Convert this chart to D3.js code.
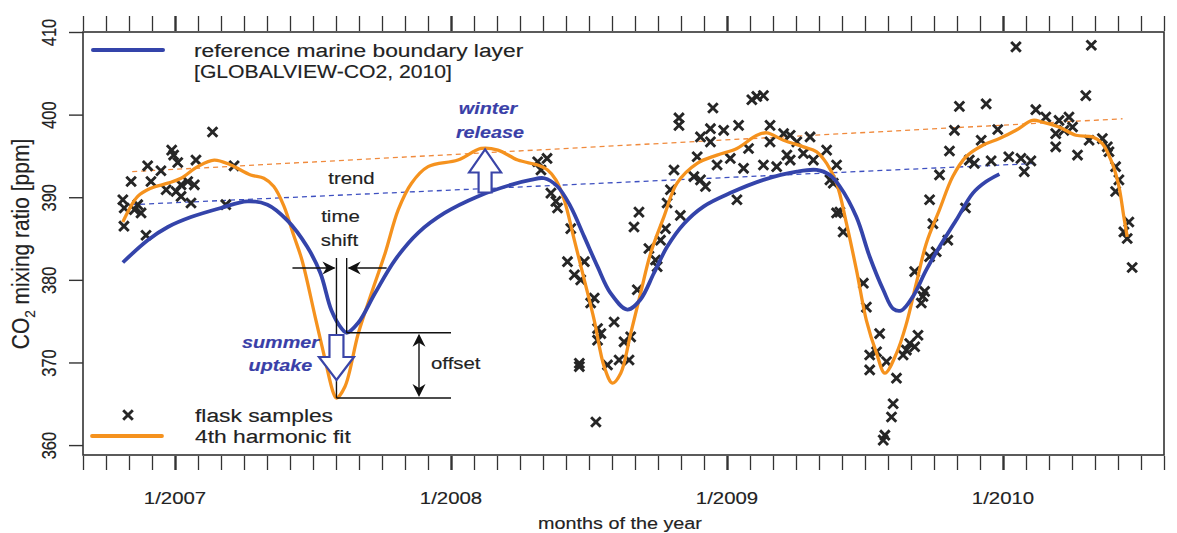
<!DOCTYPE html>
<html>
<head>
<meta charset="utf-8">
<script src="https://cdn.jsdelivr.net/npm/d3@7"></script>
<style>
  html, body { margin: 0; padding: 0; background: #fff; }
  svg { display: block; font-family: "Liberation Sans", Arial, sans-serif; }
</style>
</head>
<body>
<div class="chart"></div>
<script>
// -----------------------------------------------------------------------
// Data (decimal year, ppm)
// -----------------------------------------------------------------------

// flask samples
const FLASK_YEAR = [
  2007.136, 2006.988, 2006.995, 2007.010, 2007.076, 2006.901, 2006.949, 2007.214, 2006.841, 2006.913,
  2006.968, 2007.022, 2007.046, 2007.070, 2007.004, 2007.022, 2006.811, 2007.058, 2006.865, 2006.877,
  2006.853, 2007.184, 2006.815, 2006.895, 2006.816,
  2008.314, 2008.348, 2008.326, 2008.362, 2008.380, 2008.386, 2008.434, 2008.422, 2008.483, 2008.447,
  2008.470, 2008.519, 2008.506, 2008.465, 2008.465, 2008.531, 2008.543, 2008.531, 2008.591, 2008.567,
  2008.609, 2008.645, 2008.627, 2008.651, 2008.525, 2008.675, 2008.663, 2008.681, 2008.717, 2008.741,
  2008.747, 2008.759, 2008.777, 2008.783, 2008.795, 2008.808, 2008.831, 2008.826, 2008.826, 2008.949,
  2009.108, 2009.132, 2009.090, 2008.940, 2008.988, 2009.042, 2008.904, 2008.940, 2009.156, 2009.205,
  2009.229, 2009.253, 2009.301, 2009.361, 2009.078, 2009.156, 2009.012, 2008.964, 2009.060, 2009.132,
  2009.180, 2009.217, 2009.229, 2009.277, 2009.313, 2008.892, 2008.880, 2008.904, 2008.922, 2009.036,
  2009.385, 2009.397,
  2010.047, 2010.320, 2010.300, 2009.842, 2009.939, 2010.119, 2010.155, 2009.824, 2009.981, 2009.806,
  2009.921, 2009.878, 2009.896, 2009.957, 2010.021, 2010.065, 2010.101, 2010.077, 2009.770, 2009.734,
  2009.864, 2010.203, 2010.239, 2010.252, 2010.221, 2010.191, 2010.191, 2010.270, 2010.312, 2010.360,
  2010.378, 2010.384, 2010.408, 2010.420, 2010.408, 2010.456, 2010.438, 2010.450, 2010.468,
  2009.397, 2009.373, 2009.409, 2009.421, 2009.494, 2009.505, 2009.553, 2009.517, 2009.542, 2009.517,
  2009.578, 2009.614, 2009.602, 2009.596, 2009.572, 2009.566, 2009.638, 2009.662, 2009.692, 2009.680,
  2009.650, 2009.680, 2009.710, 2009.704, 2009.716, 2009.734, 2009.758, 2009.800, 2009.746
];
const FLASK_PPM = [
  397.9, 395.7, 395.1, 394.2, 394.5, 393.8, 393.2, 393.8, 391.9, 391.9,
  390.9, 391.5, 391.9, 391.5, 390.7, 390.1, 389.7, 389.3, 389.1, 388.1,
  388.5, 389.1, 386.5, 385.4, 388.7,
  394.3, 394.7, 393.3, 390.5, 389.5, 388.7, 386.2, 382.2, 382.2, 380.6,
  380.0, 377.8, 377.2, 369.9, 369.5, 374.1, 373.5, 372.7, 374.9, 369.7,
  370.3, 370.3, 372.5, 373.1, 362.8, 378.8, 386.4, 388.2, 383.8, 382.4,
  381.6, 384.8, 386.2, 389.3, 390.9, 393.3, 387.8, 399.6, 398.7, 400.8,
  402.2, 402.3, 401.8, 398.3, 398.1, 398.7, 397.3, 396.7, 398.7, 397.7,
  397.5, 396.7, 397.3, 395.7, 395.9, 396.7, 394.7, 393.9, 393.5, 393.9,
  393.7, 395.1, 394.5, 395.3, 394.5, 394.9, 392.5, 392.1, 391.3, 389.7,
  391.7, 388.1,
  408.2, 408.4, 402.3, 401.0, 401.3, 400.6, 399.7, 398.1, 398.2, 395.6,
  396.9, 394.5, 394.1, 394.4, 394.9, 394.7, 394.4, 393.1, 392.7, 389.7,
  388.7, 399.3, 399.7, 398.5, 398.1, 397.7, 396.1, 395.1, 396.9, 397.1,
  396.1, 395.5, 393.7, 392.1, 390.7, 387.0, 385.8, 385.0, 381.5,
  393.9, 392.1, 388.2, 385.8, 379.6, 376.7, 373.5, 370.9, 371.3, 369.1,
  370.1, 368.1, 365.0, 363.4, 361.2, 360.6, 370.9, 372.3, 373.3, 371.9,
  371.5, 381.0, 378.0, 377.2, 378.6, 382.8, 383.4, 384.8, 386.8
];

// 4th harmonic fit
const FIT_YEAR = [
  2006.811, 2006.865, 2006.913, 2006.974, 2007.022, 2007.082, 2007.142, 2007.202, 2007.274, 2007.322,
  2007.358, 2007.395, 2007.430, 2007.460, 2007.508, 2007.544, 2007.574, 2007.585, 2007.616, 2007.664,
  2007.712, 2007.761, 2007.809, 2007.857, 2007.917, 2008.025, 2008.109, 2008.170, 2008.242, 2008.314,
  2008.350, 2008.380, 2008.410, 2008.447, 2008.483, 2008.519, 2008.555, 2008.585, 2008.615, 2008.651,
  2008.687, 2008.723, 2008.771, 2008.819, 2008.892, 2008.964, 2009.036, 2009.108, 2009.144, 2009.205,
  2009.277, 2009.325, 2009.361, 2009.397, 2009.433, 2009.469, 2009.505, 2009.542, 2009.572, 2009.614,
  2009.650, 2009.686, 2009.722, 2009.770, 2009.818, 2009.866, 2009.927, 2009.987, 2010.047, 2010.107,
  2010.143, 2010.203, 2010.264, 2010.324, 2010.360, 2010.396, 2010.420, 2010.438, 2010.450
];
const FIT_PPM = [
  387.0, 390.1, 391.1, 391.7, 392.3, 393.7, 394.5, 393.9, 392.7, 392.3,
  391.3, 388.9, 385.4, 382.4, 375.5, 370.3, 366.3, 365.7, 367.1, 373.5,
  378.4, 383.2, 388.5, 391.7, 393.7, 394.5, 395.9, 395.7, 394.5, 393.9,
  393.3, 392.1, 389.7, 384.8, 380.0, 375.1, 369.5, 367.5, 368.7, 373.5,
  378.4, 383.2, 387.6, 391.7, 394.1, 395.1, 395.9, 397.5, 397.8, 396.9,
  396.1, 395.5, 394.1, 391.7, 386.8, 381.2, 375.1, 371.1, 368.7, 371.1,
  374.7, 379.6, 384.4, 388.5, 392.5, 394.9, 396.3, 397.1, 398.1, 399.3,
  399.1, 398.5, 397.5, 397.3, 396.5, 394.1, 391.3, 387.6, 385.2
];

// reference marine boundary layer
const MBL_YEAR = [
  2006.811, 2006.901, 2006.974, 2007.058, 2007.166, 2007.262, 2007.335, 2007.407, 2007.479, 2007.527,
  2007.567, 2007.604, 2007.622, 2007.664, 2007.725, 2007.797, 2007.881, 2007.977, 2008.097, 2008.217,
  2008.289, 2008.338, 2008.386, 2008.433, 2008.483, 2008.531, 2008.578, 2008.639, 2008.686, 2008.735,
  2008.783, 2008.844, 2008.916, 2009.011, 2009.132, 2009.253, 2009.325, 2009.372, 2009.409, 2009.469,
  2009.517, 2009.566, 2009.602, 2009.632, 2009.674, 2009.722, 2009.770, 2009.830, 2009.891, 2009.939,
  2009.987
];
const MBL_PPM = [
  382.1, 384.8, 386.4, 387.6, 388.7, 389.5, 389.1, 387.2, 384.0, 380.8,
  376.3, 374.1, 373.6, 374.8, 378.4, 382.4, 385.7, 388.1, 390.1, 391.5,
  392.1, 392.3, 391.3, 388.9, 385.2, 381.6, 378.4, 376.4, 377.6, 380.8,
  384.0, 386.8, 388.9, 390.5, 392.1, 393.1, 393.3, 392.7, 391.3, 387.6,
  382.8, 378.8, 376.5, 376.3, 378.0, 381.2, 384.0, 387.2, 390.5, 391.9,
  392.8
];

// dashed trend lines (start, end)
const TREND_FIT_YEAR = [2006.845, 2010.433];
const TREND_FIT_PPM = [393.1, 399.5];
const TREND_MBL_YEAR = [2006.841, 2010.126];
const TREND_MBL_PPM = [389.1, 394.1];

// axes
const Y_TICKS = [360, 370, 380, 390, 400, 410];
const X_LABEL_YEARS = [2007, 2008, 2009, 2010];
const X_LABELS = ["1/2007", "1/2008", "1/2009", "1/2010"];

// -----------------------------------------------------------------------
// Layout
// -----------------------------------------------------------------------

const WIDTH = 1177, HEIGHT = 533;
const SX = 1.2;              // the scanned figure is stretched sideways, text follows it
const BLUE = "#3444aa";
const ORANGE = "#f5921e";
const INK = "#222";

const svg = d3.select(".chart").append("svg")
  .attr("width", WIDTH)
  .attr("height", HEIGHT);

const x = d3.scaleLinear().domain([2006 + 8 / 12, 2010 + 7 / 12]).range([83, 1164]);
const y = d3.scaleLinear().domain([358.8, 410]).range([455, 32]);

// text that follows the horizontal stretch
function label(parent, px, py, str, size, opts = {}) {
  const color = opts.color || INK;
  const t = parent.append("text")
    .attr("transform", `translate(${px},${py}) scale(${SX},1)`)
    .attr("font-size", size)
    .attr("text-anchor", opts.anchor || "start")
    .attr("fill", color)
    .attr("stroke", color).attr("stroke-width", 0.15)
    .text(str);
  if (opts.bold) t.attr("font-weight", "bold");
  if (opts.italic) t.attr("font-style", "italic");
  return t;
}

// -----------------------------------------------------------------------
// Axes
// -----------------------------------------------------------------------

const monthTicks = d3.range(48).map(i => 2006 + (8 + i) / 12);
const isJan = v => Math.abs(v - Math.round(v)) < 1e-6;

function styleTicks(g) {
  g.select(".domain").remove();
  g.selectAll(".tick line")
    .attr("stroke", "#333")
    .attr("stroke-width", d => isJan(d) ? 2.4 : 1.3);
}

svg.append("g")
  .attr("transform", `translate(0,${y.range()[0] + 1})`)
  .call(d3.axisBottom(x).tickValues(monthTicks).tickSize(14).tickFormat(""))
  .call(styleTicks);

svg.append("g")
  .attr("transform", `translate(0,${y.range()[1] - 1})`)
  .call(d3.axisTop(x).tickValues(monthTicks).tickSize(15).tickFormat(""))
  .call(styleTicks);

const yAxis = svg.append("g")
  .attr("transform", `translate(${x.range()[0]},0)`)
  .call(d3.axisLeft(y).tickValues(Y_TICKS).tickSize(14));
yAxis.select(".domain").remove();
yAxis.selectAll(".tick line").attr("stroke", "#333").attr("stroke-width", 1.4);
yAxis.selectAll(".tick text")
  .attr("x", null).attr("dy", null)
  .attr("transform", `translate(-27,0) rotate(-90) scale(1,${SX})`)
  .attr("text-anchor", "middle")
  .attr("font-size", 16.5)
  .attr("font-family", null)
  .attr("fill", INK)
  .attr("stroke", INK).attr("stroke-width", 0.15);

X_LABEL_YEARS.forEach((yr, i) => label(svg, x(yr), 504, X_LABELS[i], 17, { anchor: "middle" }));
label(svg, 620, 529, "months of the year", 16.5, { anchor: "middle" });

const yTitle = svg.append("text")
  .attr("transform", `translate(29,244) rotate(-90) scale(1,1.1)`)
  .attr("text-anchor", "middle")
  .attr("font-size", 21)
  .attr("fill", INK)
  .attr("stroke", INK).attr("stroke-width", 0.15);
yTitle.append("tspan").text("CO");
yTitle.append("tspan").attr("font-size", 13.5).attr("dy", 5).text("2");
yTitle.append("tspan").attr("dy", -5).text(" mixing ratio [ppm]");

// plot frame
svg.append("rect")
  .attr("x", x.range()[0]).attr("y", y.range()[1])
  .attr("width", x.range()[1] - x.range()[0])
  .attr("height", y.range()[0] - y.range()[1])
  .attr("fill", "none").attr("stroke", "#333").attr("stroke-width", 1.6);

// -----------------------------------------------------------------------
// Marks
// -----------------------------------------------------------------------

const line = d3.line()
  .x(d => x(d[0]))
  .y(d => y(d[1]))
  .curve(d3.curveCatmullRom.alpha(0.5));

// trend lines
svg.append("path")
  .attr("d", d3.line()(TREND_FIT_YEAR.map((v, i) => [x(v), y(TREND_FIT_PPM[i])])))
  .attr("stroke", "#f08a3c").attr("stroke-width", 1.3)
  .attr("stroke-dasharray", "5,4").attr("fill", "none");
svg.append("path")
  .attr("d", d3.line()(TREND_MBL_YEAR.map((v, i) => [x(v), y(TREND_MBL_PPM[i])])))
  .attr("stroke", "#3d4fc0").attr("stroke-width", 1.3)
  .attr("stroke-dasharray", "5,4").attr("fill", "none");

// flask samples
const cross = r => `M${-r},${-r}L${r},${r}M${-r},${r}L${r},${-r}`;
svg.append("g").selectAll("path")
  .data(FLASK_YEAR.map((v, i) => [v, FLASK_PPM[i]]))
  .join("path")
  .attr("transform", d => `translate(${x(d[0])},${y(d[1])})`)
  .attr("d", cross(4.8))
  .attr("stroke", "#262626").attr("stroke-width", 2.9).attr("fill", "none");

// curves
svg.append("path")
  .datum(FIT_YEAR.map((v, i) => [v, FIT_PPM[i]]))
  .attr("d", line)
  .attr("stroke", ORANGE).attr("stroke-width", 3.3).attr("fill", "none");
svg.append("path")
  .datum(MBL_YEAR.map((v, i) => [v, MBL_PPM[i]]))
  .attr("d", line)
  .attr("stroke", BLUE).attr("stroke-width", 3.8).attr("fill", "none");

// -----------------------------------------------------------------------
// Annotations
// -----------------------------------------------------------------------

const ann = svg.append("g");
const fitMin = FIT_PPM.indexOf(d3.min(FIT_PPM.slice(0, 30)));
const mblMin = MBL_PPM.indexOf(d3.min(MBL_PPM.slice(0, 20)));
const ox = x(FIT_YEAR[fitMin]), oy = y(FIT_PPM[fitMin]);
const bx = x(MBL_YEAR[mblMin]), by = y(MBL_PPM[mblMin]);
const rightEnd = x(2008.0);

function seg(x1, y1, x2, y2) {
  ann.append("line")
    .attr("x1", x1).attr("y1", y1).attr("x2", x2).attr("y2", y2)
    .attr("stroke", "#111").attr("stroke-width", 1.4);
}
// filled arrowhead, tip at (tx,ty), pointing along angle (radians)
function head(tx, ty, ang) {
  const L = 13, W = 6.5, N = 9;
  const c = Math.cos(ang), s = Math.sin(ang);
  const p = (a, b) => [tx - a * c + b * s, ty - a * s - b * c];
  ann.append("path")
    .attr("d", "M" + [p(0, 0), p(L, W), p(N, 0), p(L, -W)].join("L") + "Z")
    .attr("fill", "#111");
}

// time shift
const ay = oy - 130;
seg(ox, ay - 10, ox, oy);
seg(bx, ay - 10, bx, by);
seg(ox - 44, ay, ox - 2, ay); head(ox - 1, ay, 0);
seg(bx + 40, ay, bx + 2, ay); head(bx + 1, ay, Math.PI);

// offset
seg(ox, oy, rightEnd, oy);
seg(bx, by, rightEnd, by);
const dx = rightEnd - 32;
seg(dx, by + 3, dx, oy - 3);
head(dx, by + 1, -Math.PI / 2);
head(dx, oy - 1, Math.PI / 2);

label(ann, ox + 15, 184, "trend", 17, { anchor: "middle" });
label(ann, ox + 4, 222, "time", 17, { anchor: "middle" });
label(ann, ox + 3, 246, "shift", 17, { anchor: "middle" });
label(ann, dx + 12, 369, "offset", 17);

// hollow block arrows
function blockArrow(tx, ty, dir, headLen, headW, shaftW, shaftLen) {
  // dir = 1 pointing down, -1 pointing up
  const hb = ty - dir * headLen, sb = hb - dir * shaftLen;
  const pts = [
    [tx, ty], [tx + headW, hb], [tx + shaftW, hb], [tx + shaftW, sb],
    [tx - shaftW, sb], [tx - shaftW, hb], [tx - headW, hb]
  ];
  ann.append("path")
    .attr("d", "M" + pts.join("L") + "Z")
    .attr("fill", "#fff").attr("stroke", "#3a45a8").attr("stroke-width", 2.2)
    .attr("stroke-linejoin", "miter");
}
blockArrow(ox, oy - 18, 1, 23, 17.5, 7, 22);
const peakI = FIT_PPM.indexOf(d3.max(FIT_PPM.slice(20, 35)));
blockArrow(x(FIT_YEAR[peakI]) + 4, y(FIT_PPM[peakI]) + 1, -1, 23, 16, 6.5, 20);

const annBlue = "#3a3fa8";
label(ann, ox - 56, 348, "summer", 16.5, { anchor: "middle", color: annBlue, bold: true, italic: true });
label(ann, ox - 56, 371, "uptake", 16.5, { anchor: "middle", color: annBlue, bold: true, italic: true });
label(ann, 488, 114, "winter", 16.5, { anchor: "middle", color: annBlue, bold: true, italic: true });
label(ann, 490, 138, "release", 16.5, { anchor: "middle", color: annBlue, bold: true, italic: true });

// -----------------------------------------------------------------------
// Legends
// -----------------------------------------------------------------------

const leg = svg.append("g");
leg.append("line").attr("x1", 93).attr("x2", 163).attr("y1", 50).attr("y2", 50)
  .attr("stroke", BLUE).attr("stroke-width", 4).attr("stroke-linecap", "round");
label(leg, 194, 57, "reference marine boundary layer", 19);
label(leg, 194, 78, "[GLOBALVIEW-CO2, 2010]", 19)
  .attr("textLength", 215).attr("lengthAdjust", "spacingAndGlyphs");

leg.append("path").attr("transform", "translate(128,415)").attr("d", cross(4.8))
  .attr("stroke", "#262626").attr("stroke-width", 2.9);
leg.append("line").attr("x1", 92).attr("x2", 162).attr("y1", 436).attr("y2", 436)
  .attr("stroke", ORANGE).attr("stroke-width", 3.8).attr("stroke-linecap", "round");
label(leg, 195, 422, "flask samples", 19);
label(leg, 195, 443, "4th harmonic fit", 19);
</script>
</body>
</html>
